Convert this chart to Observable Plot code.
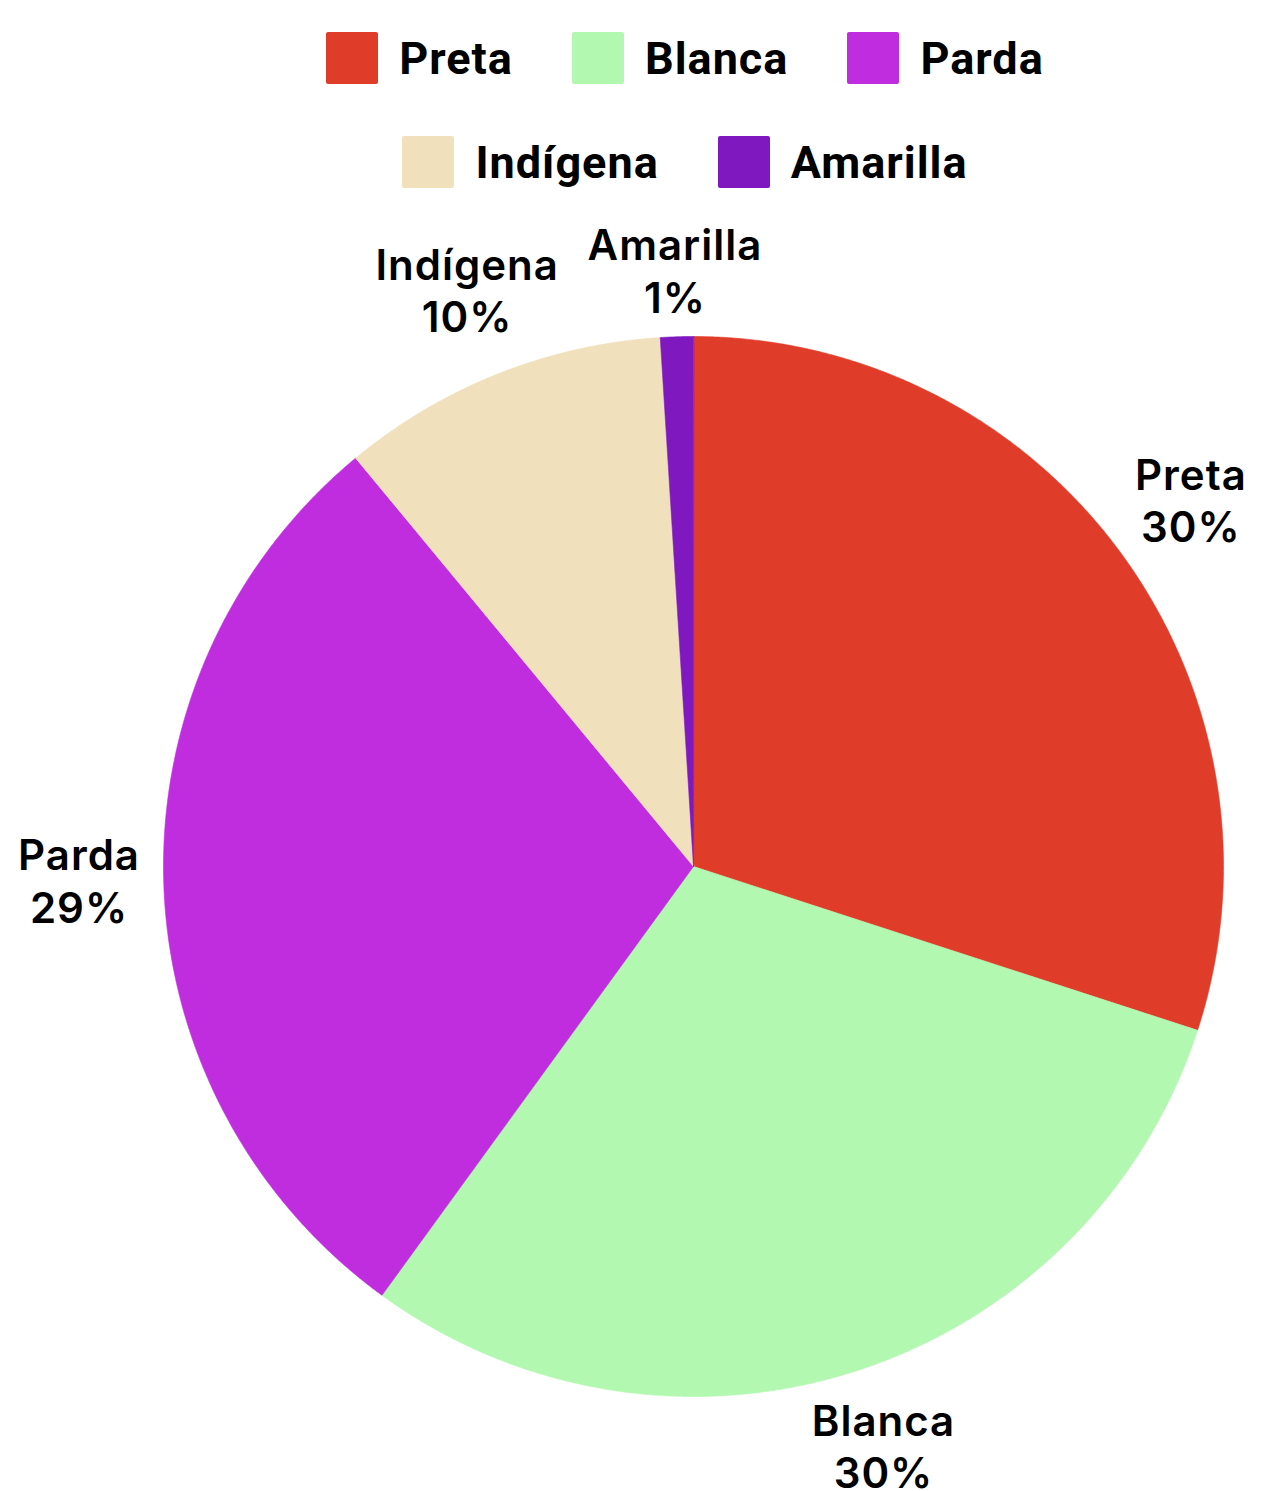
<!DOCTYPE html>
<html>
<head>
<meta charset="utf-8">
<script src="https://cdn.jsdelivr.net/npm/d3@7"></script>
<script src="https://cdn.jsdelivr.net/npm/@observablehq/plot@0.6"></script>
<style>
  html, body { margin: 0; padding: 0; background: #fff; }
  #wrap { width: 1262px; height: 1491px; position: relative; overflow: hidden; }
  #legend { height: 210px; box-sizing: border-box; padding-top: 32px; padding-left: 108px; }
  .row { display: flex; justify-content: center; align-items: center; height: 52px; }
  .row + .row { margin-top: 52px; }
  .item { display: flex; align-items: center; margin: 0 29.5px; font-family: Roboto, sans-serif; font-weight: 700; font-size: 45px; letter-spacing: 1px; color: #000; }
  .sw { width: 52px; height: 52px; border-radius: 2px; margin-right: 21px; }
  svg { display: block; }
  svg text { letter-spacing: 1px; }
</style>
</head>
<body>
<div id="wrap">
  <div id="legend"></div>
  <div id="chart"></div>
</div>
<script>
const categories = ["Preta", "Blanca", "Parda", "Indígena", "Amarilla"];
const values = [30, 30, 29, 10, 1];
const colors = ["#E03C2A", "#B2F8B0", "#C02DDE", "#F0E0BC", "#7F18BE"];
const legendRows = [["Preta", "Blanca", "Parda"], ["Indígena", "Amarilla"]];

const data = categories.map((c, i) => ({category: c, value: values[i]}));
const arcs = d3.pie().sort(null).value(d => d.value)(data);

// slice polygons in unit coordinates (y up)
const poly = [];
for (const a of arcs) {
  const c = a.data.category;
  poly.push({category: c, x: 0, y: 0});
  const n = Math.max(2, Math.ceil((a.endAngle - a.startAngle) / (Math.PI / 720)));
  for (let k = 0; k <= n; k++) {
    const t = a.startAngle + (a.endAngle - a.startAngle) * k / n;
    poly.push({category: c, x: Math.sin(t), y: Math.cos(t)});
  }
}

const labels = arcs.map(a => {
  const m = (a.startAngle + a.endAngle) / 2;
  const r = a.data.value < 5 ? 1.115 : 1.16;
  return {category: a.data.category, text: `${a.data.category}\n${a.data.value}%`, x: r * Math.sin(m), y: r * Math.cos(m)};
});

// legend
const legend = document.getElementById("legend");
for (const row of legendRows) {
  const r = document.createElement("div");
  r.className = "row";
  for (const c of row) {
    const it = document.createElement("div");
    it.className = "item";
    const sw = document.createElement("div");
    sw.className = "sw";
    sw.style.background = colors[categories.indexOf(c)];
    it.appendChild(sw);
    it.appendChild(document.createTextNode(c));
    r.appendChild(it);
  }
  legend.appendChild(r);
}

const cx = 693, cy = 656, R = 530;
const chart = Plot.plot({
  width: 1262,
  height: 1281,
  margin: 0,
  x: {domain: [-1, 1], range: [cx - R, cx + R], axis: null},
  y: {domain: [-1, 1], range: [cy + R, cy - R], axis: null},
  color: {domain: categories, range: colors, type: "ordinal"},
  marks: [
    Plot.line(poly, {x: "x", y: "y", z: "category", fill: "category", stroke: "category", strokeWidth: 0.6, curve: "linear-closed"}),
    Plot.text(labels, {x: "x", y: "y", text: "text", dy: -6, fontSize: 42, fontWeight: 600, fontFamily: "Inter, sans-serif", fill: "#000", lineHeight: 1.24, textAnchor: "middle"})
  ]
});
document.getElementById("chart").appendChild(chart);
</script>
</body>
</html>
